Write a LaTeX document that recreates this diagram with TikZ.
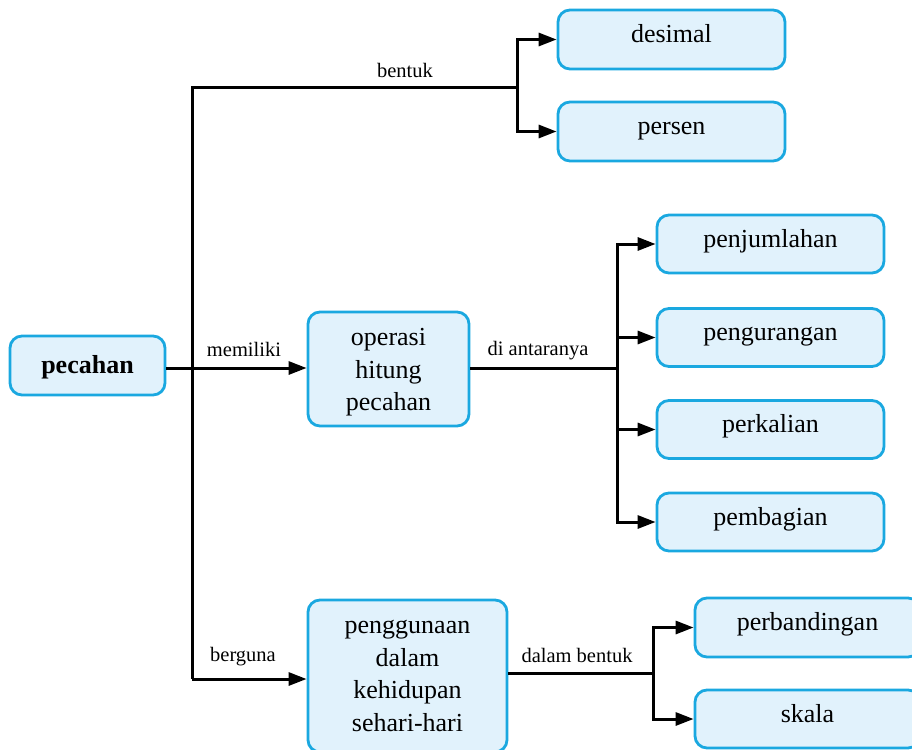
\documentclass[tikz,border=0pt]{standalone}
\usepackage{fontspec}
\setmainfont{Liberation Serif}
\usetikzlibrary{arrows.meta}
\definecolor{boxline}{HTML}{1AA8E0}
\definecolor{boxfill}{HTML}{E1F2FC}
\begin{document}
\begin{tikzpicture}[x=1pt,y=-1pt,
  box/.style={draw=boxline, fill=boxfill, line width=2.8pt, rounded corners=12pt,
    align=center, font=\fontsize{26}{32.5}\selectfont, inner sep=0pt},
  onebox/.style={box, text height=18pt, text depth=12pt},
  conn/.style={line width=3pt, -{Triangle[length=18pt,width=13pt]}},
  plainline/.style={line width=3pt},
  lbl/.style={font=\fontsize{20.5}{22}\selectfont, anchor=base}]
\useasboundingbox (0,0) rectangle (912,749);
\clip (0,0) rectangle (912,749);
% boxes
\node[box, minimum width=155pt, minimum height=59pt, text height=20pt, text depth=4pt,
  font=\fontsize{26}{32}\selectfont\bfseries] (pecahan) at (87.5,365.5) {pecahan};
\node[onebox, minimum width=227pt, minimum height=59pt] (desimal) at (671.5,39.5) {desimal};
\node[onebox, minimum width=227pt, minimum height=59pt] (persen) at (671.5,131.5) {persen};
\node[box, minimum width=161pt, minimum height=114pt] (operasi) at (388.5,369) {\rule{0pt}{24pt}operasi\\hitung\\pecahan};
\node[onebox, minimum width=227pt, minimum height=58pt] (penjumlahan) at (770.5,244) {penjumlahan};
\node[onebox, minimum width=227pt, minimum height=58pt] (pengurangan) at (770.5,337.5) {pengurangan};
\node[onebox, minimum width=227pt, minimum height=58pt] (perkalian) at (770.5,429.5) {perkalian};
\node[onebox, minimum width=227pt, minimum height=58pt] (pembagian) at (770.5,522) {pembagian};
\node[box, minimum width=199pt, minimum height=152pt] (penggunaan) at (407.5,676) {penggunaan\\dalam\\kehidupan\\sehari-hari};
\node[onebox, minimum width=225pt, minimum height=59pt] (perbandingan) at (807.5,627.5) {perbandingan};
\node[onebox, minimum width=225pt, minimum height=58pt] (skala) at (807.5,719) {skala};
% junction coordinates
\coordinate (tTop) at (192,88);
\coordinate (tBot) at (192,679);
\coordinate (bJ) at (517,88);
\coordinate (oJ) at (617,368);
\coordinate (pJ) at (653,673);
% connectors
\draw[plainline] (bJ) -- (tTop) -- (tBot);
\draw[conn] (pecahan.east |- oJ) -- (operasi.west |- oJ);
\draw[conn] (tBot) -- (penggunaan.west |- tBot);
\draw[conn] (bJ) |- (desimal.west);
\draw[conn] (bJ) |- (persen.west);
\draw[plainline] (operasi.east |- oJ) -- (oJ);
\draw[conn] (oJ) |- (penjumlahan.west);
\draw[conn] (oJ) |- (pengurangan.west);
\draw[conn] (oJ) |- (perkalian.west);
\draw[conn] (oJ) |- (pembagian.west);
\draw[plainline] (penggunaan.east |- pJ) -- (pJ);
\draw[conn] (pJ) |- (perbandingan.west);
\draw[conn] (pJ) |- (skala.west);
% labels
\node[lbl] (lbentuk) at (405,78) {bentuk};
\node[lbl] (lmemiliki) at (244,356) {memiliki};
\node[lbl] (lantara) at (538,355) {di antaranya};
\node[lbl] (lberguna) at (243,661) {berguna};
\node[lbl] (ldalam) at (577,662) {dalam bentuk};
\end{tikzpicture}
\end{document}
